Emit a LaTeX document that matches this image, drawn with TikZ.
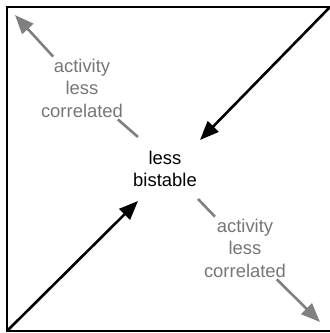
\documentclass[tikz,border=0pt]{standalone}
\usepackage{fontspec}
\setmainfont{Liberation Sans}
\usetikzlibrary{arrows.meta}
\definecolor{lblgray}{RGB}{118,118,118}
\definecolor{arrgray}{RGB}{128,128,128}
\begin{document}
\begin{tikzpicture}[x=1bp,y=-1bp,
  frame/.style={line width=2bp, line join=miter},
  blackarrow/.style={line width=2.6bp, -{Triangle[length=19bp,width=15bp]}},
  grayline/.style={line width=2.6bp, draw=arrgray},
  grayarrow/.style={grayline, -{Triangle[length=19bp,width=15bp]}},
  lbl/.style={align=center, font=\fontsize{18.5}{22.5}\selectfont, inner sep=2bp},
  glbl/.style={lbl, text=lblgray}]
\useasboundingbox (0,0) rectangle (330,333);
% frame
\coordinate (ftr) at (335,7);
\coordinate (ftl) at (7,7);
\coordinate (fbl) at (7,331);
\coordinate (fbr) at (335,331);
\draw[frame] (ftr) -- (ftl) -- (fbl) -- (fbr);
% nodes
\node[lbl] (c) at (165,169) {less\\bistable};
\node[glbl] (l1) at (82,88) {activity\\less\\correlated};
\node[glbl] (l2) at (245,248) {activity\\less\\correlated};
% coordinates
\coordinate (tr) at (330,7);
\coordinate (trtip) at (200,140);
\coordinate (bl) at (7,331);
\coordinate (bltip) at (138,201);
\coordinate (g1) at (138,137);
\coordinate (g1tip) at (15,15);
\coordinate (g2) at (198,199);
\coordinate (g2tip) at (320,322);
% black arrows
\draw[blackarrow] (tr) -- (trtip);
\draw[blackarrow] (bl) -- (bltip);
% gray arrows
\draw[grayline] (g1) -- (l1);
\draw[grayarrow] (l1) -- (g1tip);
\draw[grayline] (g2) -- (l2);
\draw[grayarrow] (l2) -- (g2tip);
\end{tikzpicture}
\end{document}
